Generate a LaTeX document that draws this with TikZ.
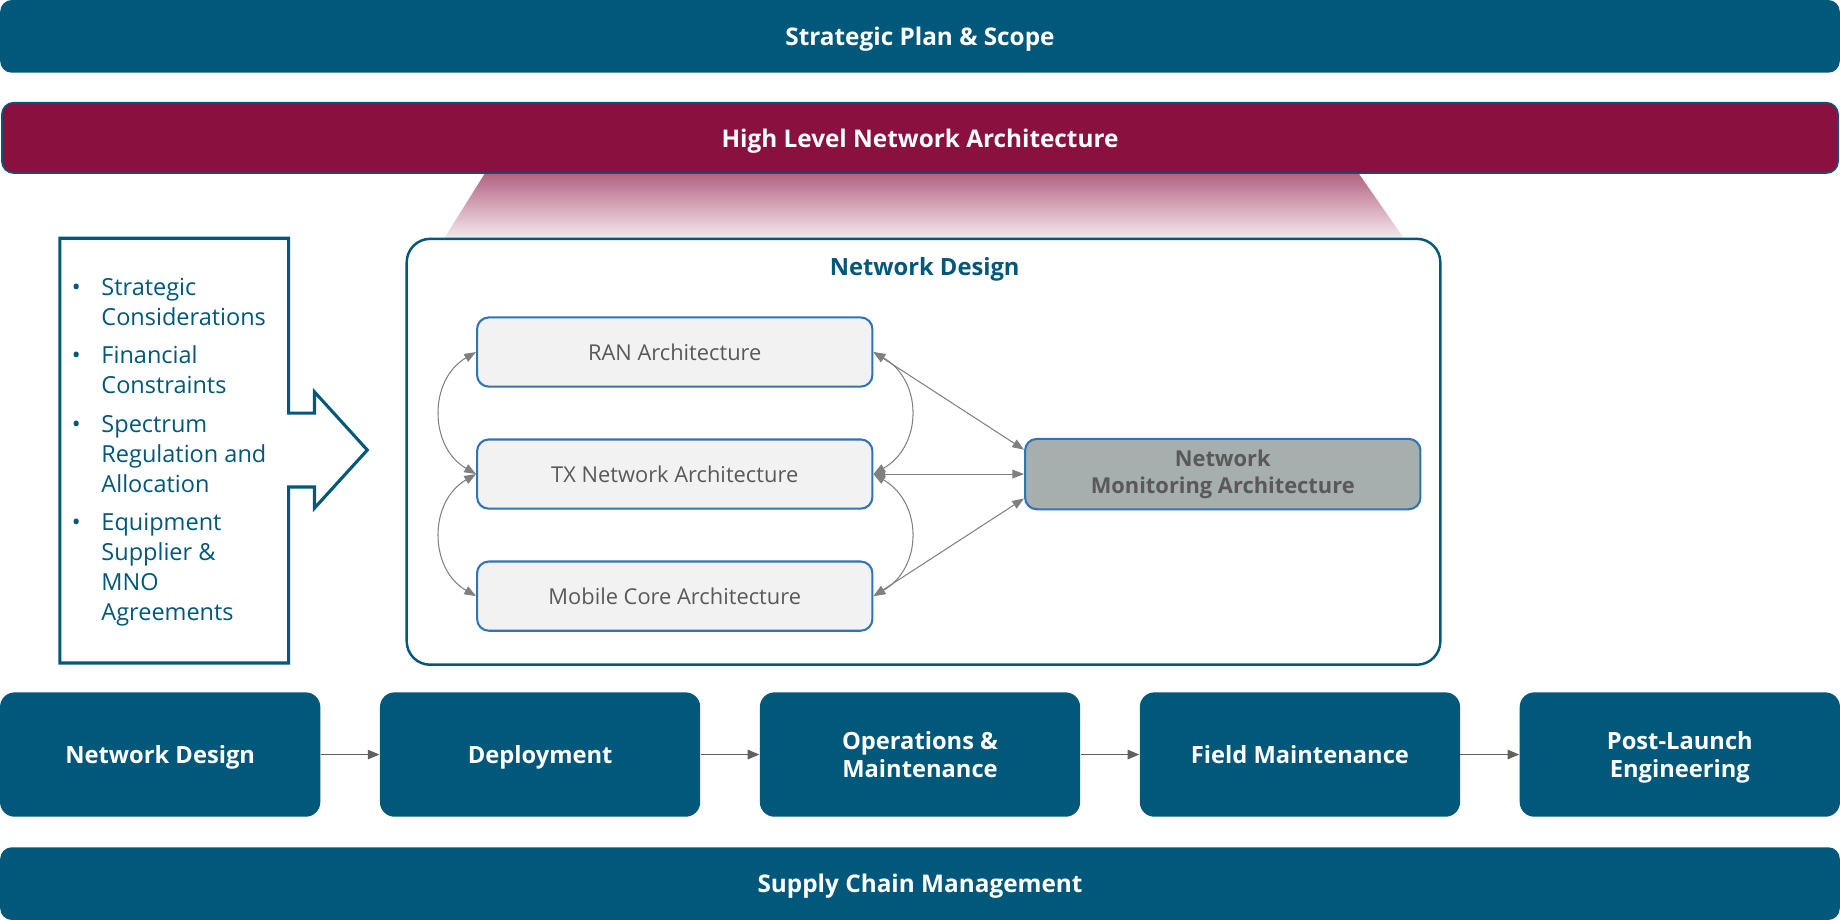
\documentclass[tikz,border=0pt]{standalone}
\usepackage{fontspec}
\setmainfont{Open Sans}
\usetikzlibrary{arrows.meta,positioning}
\definecolor{planblue}{HTML}{02587A}
\definecolor{hlcrimson}{HTML}{8A1040}
\definecolor{boxgray}{HTML}{F2F2F2}
\definecolor{boxblue}{HTML}{2E75B6}
\definecolor{nmgray}{HTML}{A6AEAE}
\definecolor{txtgray}{HTML}{595959}
\definecolor{linkgray}{HTML}{808080}
\definecolor{flowgray}{HTML}{606060}
\begin{document}
\begin{tikzpicture}[x=0.02cm,y=-0.02cm,every node/.style={font=\fontsize{10.6}{13}\selectfont},
    bar/.style={rectangle,rounded corners=0.2cm,fill=planblue,text=white,minimum width=31.36cm,minimum height=1.24cm,text depth=0pt,font=\fontsize{11.8}{14}\selectfont\bfseries},
    stage/.style={rectangle,rounded corners=0.25cm,fill=planblue,text=white,minimum width=5.46cm,minimum height=2.12cm,align=center,text depth=0pt,font=\fontsize{11.5}{14}\selectfont\bfseries},
    archbox/.style={rectangle,rounded corners=0.2cm,draw=boxblue,line width=1pt,fill=boxgray,text=txtgray,minimum width=6.74cm,minimum height=1.18cm},
    link/.style={linkgray,line width=0.5pt,{Triangle[length=0.2cm,width=0.15cm]}-{Triangle[length=0.2cm,width=0.15cm]}},
    flow/.style={flowgray,line width=0.8pt,-{Triangle[length=0.2cm,width=0.16cm]}}]
    \useasboundingbox (0,0) rectangle (1568,784);

    % Top bars
    \node[bar] (plan) at (784,31) {Strategic Plan \& Scope};
    \shade[top color=hlcrimson!65,bottom color=hlcrimson!8] (413,148) -- (1158,148) -- (1197,204) -- (378,204) -- cycle;
    \node[bar,fill=hlcrimson,draw=planblue,line width=0.8pt,minimum width=31.3cm,minimum height=1.2cm] (hla) at (784,117.5) {High Level Network Architecture};

    % Inputs arrow
    \draw[planblue,line width=1.5pt,fill=white] (51,203) -- (246,203) -- (246,352) -- (268,352) -- (268,334) -- (313,383.5)
        -- (268,433) -- (268,415) -- (246,415) -- (246,565) -- (51,565) -- cycle;
    \node[anchor=north west,inner sep=0,text=planblue,font=\fontsize{11.4}{14.5}\selectfont] (inputs) at (61,233.5) {%
        \begin{tabular}{@{}l@{\hspace{10pt}}l@{}}
        \textbullet & Strategic\\ & Considerations\\[4.2pt]
        \textbullet & Financial\\ & Constraints\\[4.2pt]
        \textbullet & Spectrum\\ & Regulation and\\ & Allocation\\[4.2pt]
        \textbullet & Equipment\\ & Supplier \&\\ & MNO\\ & Agreements
        \end{tabular}};

    % Network design container
    \node[rectangle,rounded corners=0.4cm,draw=planblue,line width=1.2pt,fill=white,minimum width=17.62cm,minimum height=7.26cm] (nd) at (787,385) {};
    \node[text=planblue,font=\fontsize{11.5}{14}\selectfont\bfseries] (ndtitle) at (788,229.5) {Network Design};

    \node[archbox] (ran) at (575,300) {RAN Architecture};
    \node[archbox] (tx) at (575,404) {TX Network Architecture};
    \node[archbox] (mc) at (575,508) {Mobile Core Architecture};
    \node[archbox,fill=nmgray,align=center,font=\fontsize{10.6}{13}\selectfont\bfseries,minimum height=1.2cm] (nm) at (1042,404) {Network\\Monitoring Architecture};

    \draw[link] (ran.west) to[bend right=60,looseness=1.15] (tx.west);
    \draw[link] (tx.west) to[bend right=60,looseness=1.15] (mc.west);
    \draw[link] (ran.east) to[bend left=60,looseness=1.2] (tx.east);
    \draw[link] (tx.east) to[bend left=60,looseness=1.2] (mc.east);
    \draw[link] (ran.east) -- (nm.173);
    \draw[link] (tx.east) -- (nm.west);
    \draw[link] (mc.east) -- (nm.187);

    % Life cycle stages
    \foreach \i/\name in {1/Network Design,2/Deployment,3/{Operations \&\\Maintenance},4/Field Maintenance,5/{Post-Launch\\Engineering}}
        \node[stage] (stage\i) at ({136.5+323.75*(\i-1)},643) {\name};
    \foreach \i [evaluate=\i as \j using int(\i+1)] in {1,...,4}
        \draw[flow] (stage\i) -- (stage\j);

    % Bottom bar
    \node[bar] (supply) at (784,753) {Supply Chain Management};
\end{tikzpicture}
\end{document}
